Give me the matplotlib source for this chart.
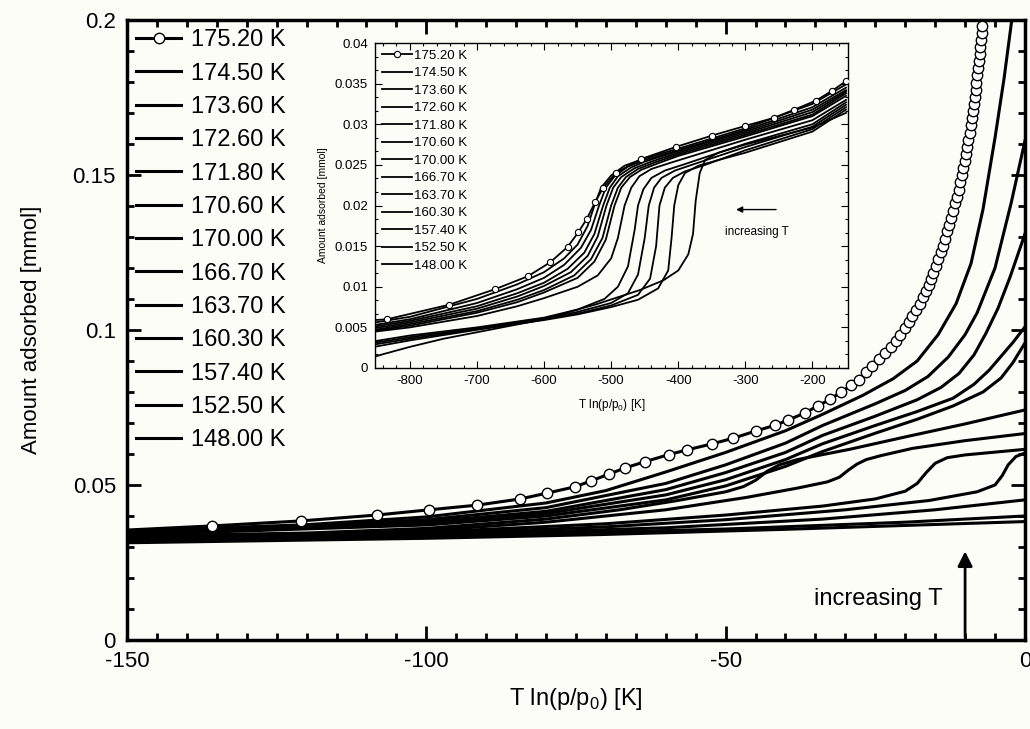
import matplotlib
matplotlib.use('Agg')
import matplotlib.pyplot as plt
from matplotlib.ticker import MultipleLocator, FuncFormatter, AutoMinorLocator

plt.rcParams['font.family'] = ['Liberation Sans', 'DejaVu Sans']
plt.rcParams['axes.unicode_minus'] = False

# ---------------- data ----------------
temps = ['175.20 K', '174.50 K', '173.60 K', '172.60 K', '171.80 K', '170.60 K',
         '170.00 K', '166.70 K', '163.70 K', '160.30 K', '157.40 K', '152.50 K', '148.00 K']

# main panel, 175.20 K (open circles at every point)
main_x_top = [-155, -135.8, -121, -108.3, -99.5, -91.5, -84.3, -79.8, -75.2, -72.5, -69.5,
              -66.8, -63.5, -59.5, -56.5, -52.2, -48.7, -45, -41.7, -39.5, -36.8, -34.6,
              -32.5, -30.7, -29, -27.7, -26.5, -25.5, -24.3, -23.3, -22.4, -21.5, -20.8,
              -20.1, -19.4, -18.8, -18.2, -17.6, -17.1, -16.6, -16.1, -15.7, -15.3, -14.9,
              -14.5, -14.1, -13.75, -13.4, -13.05, -12.7, -12.35, -12.0, -11.65, -11.35,
              -11.05, -10.8, -10.55, -10.3, -10.05, -9.85, -9.65, -9.45, -9.25, -9.05,
              -8.9, -8.72, -8.55, -8.4, -8.25, -8.1, -7.95, -7.82, -7.7, -7.58, -7.45,
              -7.33, -7.2, -7.1]
main_y_top = [0.0350, 0.0368, 0.0384, 0.0403, 0.0420, 0.0435, 0.0455, 0.0474, 0.0494, 0.0513,
              0.0535, 0.0555, 0.0575, 0.0598, 0.0613, 0.0633, 0.0651, 0.0674, 0.0693, 0.0710,
              0.0732, 0.0755, 0.0777, 0.0800, 0.0822, 0.0839, 0.0865, 0.0884, 0.0905, 0.0925,
              0.0945, 0.0965, 0.0985, 0.1005, 0.1025, 0.1045, 0.1065, 0.1085, 0.1105, 0.1125,
              0.1145, 0.1165, 0.1185, 0.1205, 0.1228, 0.1250, 0.1272, 0.1295, 0.1318, 0.1340,
              0.1362, 0.1385, 0.1408, 0.1430, 0.1453, 0.1476, 0.1499, 0.1522, 0.1545, 0.1568,
              0.1591, 0.1614, 0.1637, 0.1660, 0.1683, 0.1706, 0.1729, 0.1752, 0.1775, 0.1798,
              0.1821, 0.1844, 0.1867, 0.1890, 0.1913, 0.1936, 0.1959, 0.1982]

# main panel, 174.50 K ... 148.00 K
main_x = [
    [-152, -120, -100, -80, -70, -60, -50, -40, -33.8, -27, -22, -18, -14.5, -11.5, -9, -7, -5, -3.5, -2.2],
    [-152, -120, -100, -80, -60, -50, -40, -33.8, -25, -20, -16.2, -12.8, -10, -8, -5, -2.3, 0],
    [-152, -100, -80, -60, -50, -40, -33.8, -25, -18, -14, -11, -8.5, -6.5, -4.5, -2.5, 0],
    [-152, -100, -80, -60, -50, -40, -33.8, -25, -18, -12, -8.5, -6, -4, -2, 0],
    [-152, -100, -80, -60, -50, -40, -33.8, -25, -18, -12, -7, -4, -2, 0],
    [-152, -120, -100, -80, -67.7, -58, -50, -47, -45, -43, -41, -38, -33.8, -29.3, -20, -10, 0],
    [-152, -120, -100, -80, -60, -46.5, -38, -33, -31, -29.5, -28, -26.5, -24, -18.8, -10, 0],
    [-152, -100, -70, -50, -33.8, -25, -20, -18, -16.5, -15, -13, -10, 0],
    [-152, -100, -70, -50, -30, -16, -8, -5, -3.8, -2.8, -1.5, 0],
    [-152, -100, -60, -33.8, -15, 0],
    [-152, -100, -50, -20, 0],
    [-152, -100, -71, -40, 0],
]
main_y = [
    [0.0350, 0.0372, 0.0397, 0.0442, 0.0482, 0.0542, 0.0605, 0.0675, 0.0728, 0.0790, 0.0843, 0.0900, 0.0985, 0.1085, 0.1215, 0.1390, 0.1620, 0.1810, 0.2000],
    [0.0345, 0.0366, 0.0388, 0.0427, 0.0505, 0.0565, 0.0635, 0.0692, 0.0762, 0.0805, 0.0850, 0.0913, 0.0985, 0.1055, 0.1200, 0.1410, 0.1610],
    [0.0342, 0.0381, 0.0415, 0.0485, 0.0540, 0.0605, 0.0660, 0.0722, 0.0775, 0.0815, 0.0860, 0.0920, 0.0990, 0.1070, 0.1170, 0.1310],
    [0.0340, 0.0376, 0.0408, 0.0468, 0.0517, 0.0582, 0.0633, 0.0692, 0.0737, 0.0780, 0.0825, 0.0870, 0.0915, 0.0960, 0.1010],
    [0.0338, 0.0371, 0.0400, 0.0452, 0.0497, 0.0560, 0.0608, 0.0667, 0.0712, 0.0755, 0.0800, 0.0845, 0.0895, 0.0958],
    [0.0335, 0.0345, 0.0360, 0.0390, 0.0420, 0.0450, 0.0478, 0.0495, 0.0515, 0.0545, 0.0565, 0.0582, 0.0598, 0.0615, 0.0655, 0.0697, 0.0742],
    [0.0328, 0.0340, 0.0353, 0.0380, 0.0420, 0.0460, 0.0490, 0.0510, 0.0525, 0.0548, 0.0568, 0.0582, 0.0595, 0.0618, 0.0643, 0.0666],
    [0.0325, 0.0348, 0.0375, 0.0403, 0.0432, 0.0455, 0.0480, 0.0505, 0.0540, 0.0570, 0.0588, 0.0597, 0.0615],
    [0.0322, 0.0343, 0.0365, 0.0388, 0.0420, 0.0450, 0.0478, 0.0500, 0.0530, 0.0565, 0.0592, 0.0603],
    [0.0320, 0.0338, 0.0362, 0.0390, 0.0420, 0.0452],
    [0.0318, 0.0334, 0.0358, 0.0380, 0.0400],
    [0.0313, 0.0328, 0.0340, 0.0357, 0.0382],
]

# inset, 175.20 K (open circles)
ins_x_top = [-870, -834, -741, -673, -624, -591, -565, -549, -536, -524, -512, -493,
             -456, -404, -350, -300, -257, -227, -195, -171, -150]
ins_y_top = [0.0058, 0.0060, 0.0078, 0.0097, 0.0113, 0.0130, 0.0149, 0.0167, 0.0184,
             0.0204, 0.0222, 0.0240, 0.0257, 0.0272, 0.0286, 0.0298, 0.0308, 0.0318,
             0.0329, 0.0341, 0.0353]

# inset, 174.50 K ... 148.00 K
ins_x = [
    [-860, -800, -700, -640, -600, -570, -550, -535, -525, -515, -500, -480, -450, -400, -300, -200, -150],
    [-860, -800, -700, -640, -600, -570, -545, -530, -518, -508, -495, -475, -450, -400, -300, -200, -150],
    [-860, -800, -700, -640, -600, -565, -540, -525, -512, -502, -490, -470, -450, -400, -300, -200, -150],
    [-860, -800, -700, -640, -600, -560, -535, -520, -507, -497, -485, -465, -440, -400, -300, -200, -150],
    [-860, -800, -700, -640, -600, -555, -530, -513, -500, -490, -478, -460, -435, -400, -300, -200, -150],
    [-860, -800, -700, -640, -600, -550, -525, -508, -495, -485, -472, -455, -430, -400, -300, -200, -150],
    [-860, -800, -700, -640, -600, -550, -520, -500, -490, -480, -470, -458, -440, -410, -300, -200, -150],
    [-860, -800, -700, -600, -550, -510, -490, -475, -465, -460, -452, -440, -420, -390, -300, -200, -150],
    [-860, -800, -700, -600, -550, -500, -475, -460, -450, -444, -436, -425, -405, -380, -300, -200, -150],
    [-860, -800, -700, -600, -550, -500, -460, -442, -433, -428, -420, -408, -390, -360, -300, -200, -150],
    [-860, -800, -700, -600, -550, -500, -460, -430, -415, -410, -406, -400, -390, -370, -340, -300, -200, -150],
    [-860, -840, -800, -750, -700, -600, -520, -457, -422, -400, -385, -378, -374, -368, -360, -340, -300, -200, -150],
]
ins_y = [
    [0.0055, 0.0063, 0.0085, 0.0103, 0.0118, 0.0135, 0.0152, 0.0175, 0.0200, 0.0222, 0.0237, 0.0249, 0.0258, 0.0270, 0.0295, 0.0325, 0.0349],
    [0.0052, 0.0060, 0.0080, 0.0097, 0.0111, 0.0127, 0.0148, 0.0170, 0.0200, 0.0222, 0.0236, 0.0248, 0.0256, 0.0268, 0.0293, 0.0321, 0.0345],
    [0.0050, 0.0058, 0.0076, 0.0092, 0.0105, 0.0122, 0.0142, 0.0165, 0.0200, 0.0222, 0.0236, 0.0247, 0.0254, 0.0267, 0.0291, 0.0318, 0.0342],
    [0.0048, 0.0056, 0.0073, 0.0088, 0.0101, 0.0118, 0.0138, 0.0162, 0.0200, 0.0222, 0.0235, 0.0246, 0.0254, 0.0265, 0.0289, 0.0315, 0.0340],
    [0.0046, 0.0054, 0.0070, 0.0084, 0.0096, 0.0114, 0.0134, 0.0160, 0.0200, 0.0222, 0.0235, 0.0245, 0.0253, 0.0263, 0.0287, 0.0312, 0.0338],
    [0.0045, 0.0052, 0.0068, 0.0081, 0.0093, 0.0111, 0.0131, 0.0158, 0.0200, 0.0222, 0.0235, 0.0244, 0.0252, 0.0261, 0.0285, 0.0310, 0.0335],
    [0.0044, 0.0050, 0.0064, 0.0076, 0.0086, 0.0100, 0.0114, 0.0135, 0.0160, 0.0200, 0.0222, 0.0236, 0.0245, 0.0253, 0.0281, 0.0305, 0.0330],
    [0.0032, 0.0040, 0.0050, 0.0062, 0.0072, 0.0085, 0.0100, 0.0125, 0.0170, 0.0200, 0.0220, 0.0234, 0.0243, 0.0251, 0.0276, 0.0300, 0.0327],
    [0.0030, 0.0038, 0.0049, 0.0061, 0.0069, 0.0080, 0.0092, 0.0115, 0.0160, 0.0200, 0.0222, 0.0234, 0.0243, 0.0250, 0.0272, 0.0297, 0.0324],
    [0.0028, 0.0036, 0.0048, 0.0060, 0.0067, 0.0077, 0.0090, 0.0110, 0.0150, 0.0200, 0.0222, 0.0234, 0.0242, 0.0250, 0.0268, 0.0294, 0.0321],
    [0.0025, 0.0034, 0.0047, 0.0059, 0.0066, 0.0075, 0.0084, 0.0098, 0.0120, 0.0160, 0.0200, 0.0225, 0.0240, 0.0249, 0.0256, 0.0265, 0.0291, 0.0318],
    [0.0012, 0.0017, 0.0026, 0.0036, 0.0044, 0.0060, 0.0079, 0.0096, 0.0108, 0.0120, 0.0140, 0.0165, 0.0206, 0.0240, 0.0256, 0.0265, 0.0275, 0.0296, 0.0314],
]

BG = '#fdfdf8'

fig = plt.figure(figsize=(10.3, 7.29), dpi=100, facecolor=BG)

# ---------------- main panel ----------------
ax = fig.add_axes([0.1233, 0.1221, 0.8718, 0.8505], facecolor=BG)
ax.plot(main_x_top, main_y_top, color='black', lw=2.2, marker='o', ms=7.5,
        mfc='white', mec='black', mew=1.0, label=temps[0], zorder=5)
for xs, ys, lab in zip(main_x, main_y, temps[1:]):
    ax.plot(xs, ys, color='black', lw=2.2, label=lab)

ax.set_xlim(-150, 0)
ax.set_ylim(0, 0.2)
ax.xaxis.set_major_locator(MultipleLocator(50))
ax.xaxis.set_minor_locator(MultipleLocator(5))
ax.yaxis.set_major_locator(MultipleLocator(0.05))
ax.yaxis.set_minor_locator(MultipleLocator(0.01))
ax.yaxis.set_major_formatter(FuncFormatter(lambda v, p: '%g' % round(v, 3)))
ax.tick_params(which='both', direction='in', top=True, right=True, width=2, labelsize=16)
ax.tick_params(which='major', length=10, pad=8)
ax.tick_params(which='minor', length=5)
for s in ax.spines.values():
    s.set_linewidth(2.5)
ax.set_xlabel('T ln(p/p$_\\mathregular{0}$) [K]', fontsize=17, labelpad=10)
ax.set_ylabel('Amount adsorbed [mmol]', fontsize=16, labelpad=22)

ax.legend(loc='upper left', bbox_to_anchor=(0.0, 1.0), frameon=False, fontsize=17,
          handlelength=1.9, handletextpad=0.4, labelspacing=0.48, borderaxespad=0.1,
          borderpad=0.3)

ax.annotate('', xy=(-10, 0.0295), xytext=(-10, 0.0),
            arrowprops=dict(arrowstyle='-|>', color='black', lw=2, mutation_scale=22))
ax.text(-24.5, 0.0132, 'increasing T', fontsize=17, ha='center', va='center')

# ---------------- inset ----------------
ins = fig.add_axes([0.3641, 0.4952, 0.4592, 0.4458], facecolor=BG)
ins.plot(ins_x_top, ins_y_top, color='black', lw=1.3, marker='o', ms=4.5,
         mfc='white', mec='black', mew=0.8, label=temps[0], zorder=5)
for xs, ys, lab in zip(ins_x, ins_y, temps[1:]):
    ins.plot(xs, ys, color='black', lw=1.3, label=lab)

ins.set_xlim(-852, -147)
ins.set_ylim(0, 0.04)
ins.xaxis.set_major_locator(MultipleLocator(100))
ins.xaxis.set_minor_locator(AutoMinorLocator(5))
ins.yaxis.set_major_locator(MultipleLocator(0.005))
ins.yaxis.set_minor_locator(AutoMinorLocator(3))
ins.yaxis.set_major_formatter(FuncFormatter(lambda v, p: '%g' % round(v, 4)))
ins.tick_params(which='both', direction='in', top=True, right=True, width=0.8, labelsize=9.5)
ins.tick_params(which='major', length=5, pad=5)
ins.tick_params(which='minor', length=2.5)
for s in ins.spines.values():
    s.set_linewidth(1.0)
ins.set_xlabel('T ln(p/p$_\\mathregular{0}$) [K]', fontsize=8.5, labelpad=7)
ins.set_ylabel('Amount adsorbed [mmol]', fontsize=7.5, labelpad=5)

ins.legend(loc='upper left', bbox_to_anchor=(0.0, 1.0), frameon=False, fontsize=9.5,
           handlelength=2.3, handletextpad=0.15, labelspacing=0.40, borderaxespad=0.2,
           borderpad=0.3)

ins.annotate('', xy=(-318, 0.0195), xytext=(-250, 0.0195),
             arrowprops=dict(arrowstyle='-|>', color='black', lw=1, mutation_scale=9))
ins.text(-283, 0.0168, 'increasing T', fontsize=8.5, ha='center', va='center')

fig.savefig('out.png', dpi=100, facecolor=BG)
